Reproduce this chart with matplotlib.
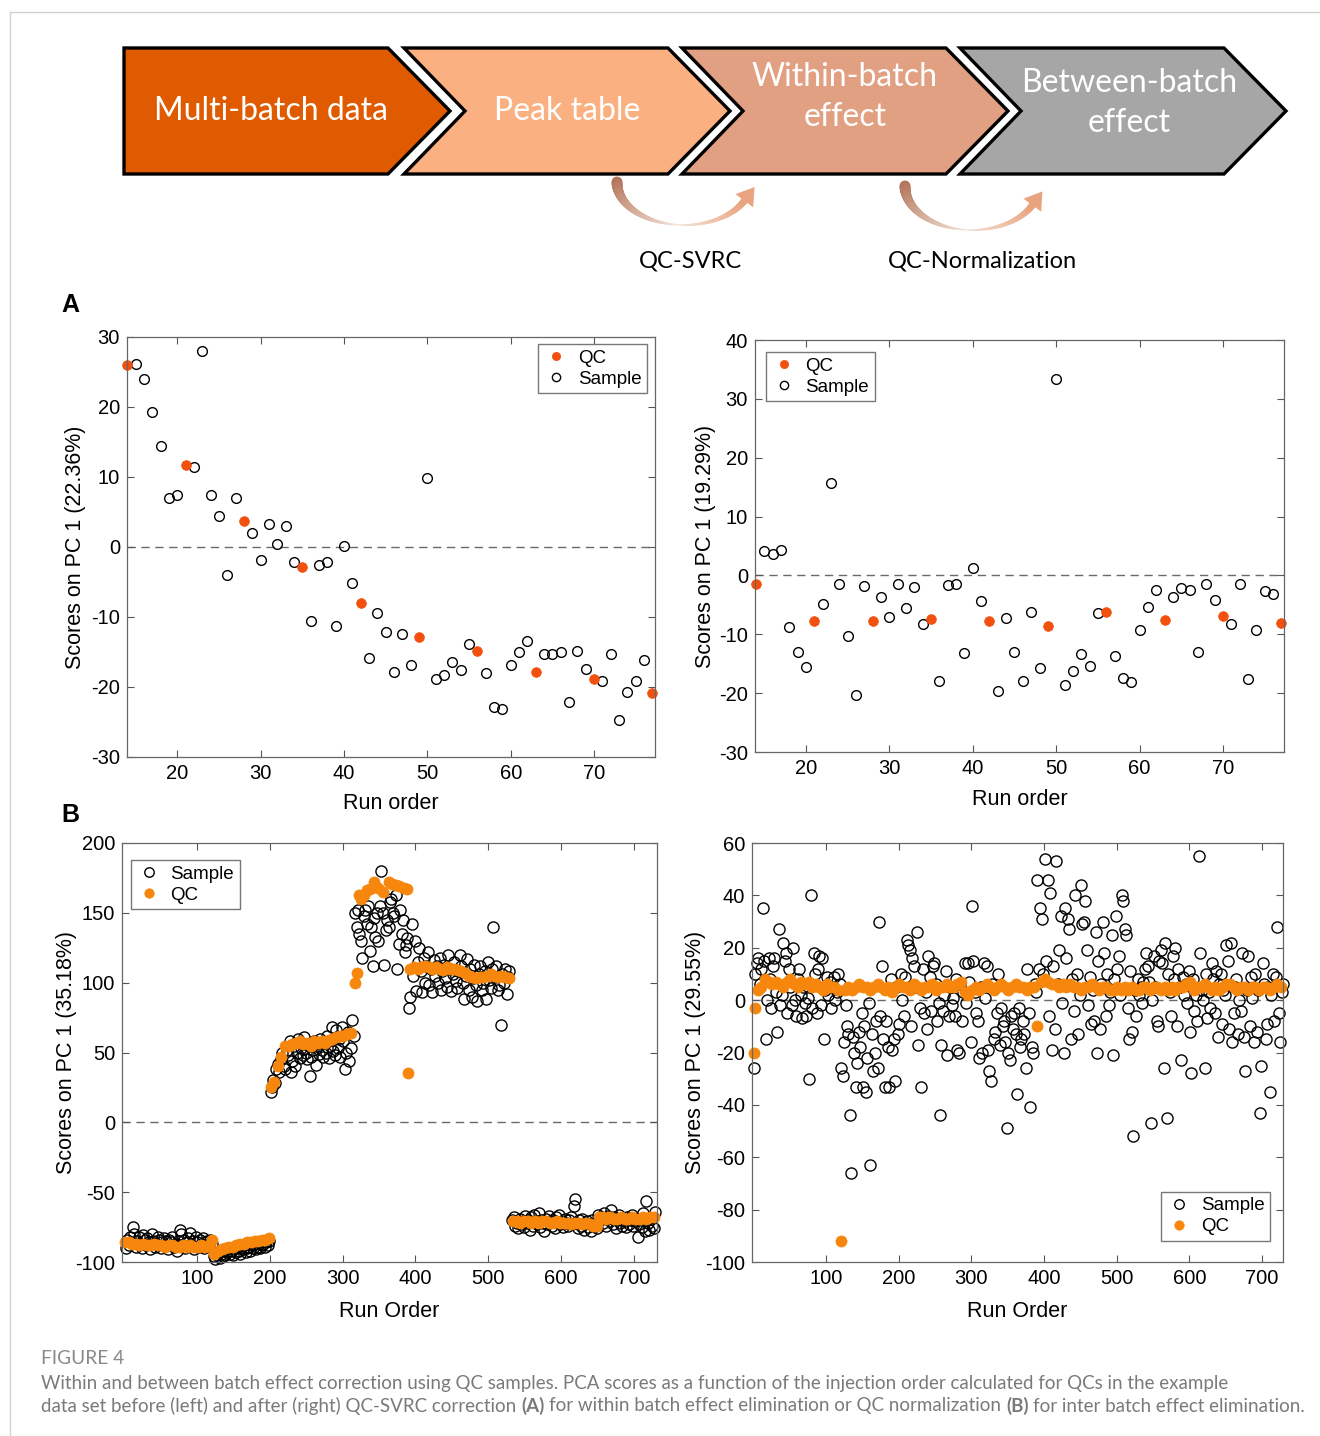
import numpy as np
import matplotlib.pyplot as plt
from matplotlib import font_manager
from matplotlib.patches import Polygon
from matplotlib.collections import LineCollection
from matplotlib.colors import to_rgb

plt.rcParams['font.family'] = ['Liberation Sans', 'DejaVu Sans']
plt.rcParams['axes.unicode_minus'] = False

# ── Data ───────────────────────────────────────────────────────────────────────
# Panel A: one score per run (runs 14-77), QCs every 7th run
a_runs = np.arange(14, 78)
a_qc_runs = [14, 21, 28, 35, 42, 49, 56, 63, 70, 77]
a_before = [26.0, 26.2, 24.0, 19.3, 14.5, 7.0, 7.5, 11.7, 11.5, 28.0,
            7.4, 4.5, -4.0, 7.0, 3.7, 2.0, -1.8, 3.3, 0.5, 3.0,
            -2.2, -2.9, -10.6, -2.5, -2.2, -11.3, 0.2, -5.1, -8.0, -15.9,
            -9.4, -12.2, -17.8, -12.4, -16.9, -12.8, 9.8, -18.9, -18.3, -16.4,
            -17.5, -13.9, -14.8, -18.0, -22.8, -23.1, -16.9, -15.0, -13.4, -17.9,
            -15.3, -15.3, -15.0, -22.1, -14.8, -17.4, -18.9, -19.1, -15.3, -24.7,
            -20.7, -19.1, -16.1, -20.9]
a_after = [-1.4, 4.2, 3.7, 4.4, -8.8, -13.0, -15.6, -7.8, -4.8, 15.7,
           -1.5, -10.3, -20.3, -1.8, -7.7, -3.7, -7.0, -1.5, -5.6, -1.9,
           -8.3, -7.4, -17.9, -1.6, -1.5, -13.2, 1.3, -4.4, -7.7, -19.7,
           -7.2, -13.0, -17.9, -6.2, -15.8, -8.6, 33.3, -18.6, -16.3, -13.4,
           -15.4, -6.4, -6.2, -13.7, -17.4, -18.1, -9.2, -5.4, -2.4, -7.5,
           -3.6, -2.1, -2.4, -13.0, -1.4, -4.1, -6.9, -8.3, -1.4, -17.6,
           -9.3, -2.6, -3.2, -8.0]

# Panel B left (before QC normalization): samples on every 2nd run from each batch start
bl_sample_start = [2, 123, 201, 317, 391, 533, 651]
bl_s1 = [-90, -84, -88, -82, -86, -75, -80, -89, -85, -82,
         -87, -90, -81, -84, -88, -83, -86, -91, -80, -85,
         -89, -87, -82, -84, -90, -86, -83, -88, -85, -91,
         -84, -86, -82, -89, -87, -92, -85, -77, -80, -88,
         -84, -90, -86, -83, -79, -88, -85, -91, -82, -86,
         -89, -84, -87, -83, -90, -86, -85, -88, -84, -87]
bl_s2 = [-96, -98, -95, -93, -97, -94, -96, -92, -95, -93,
         -90, -94, -92, -95, -91, -93, -89, -92, -94, -90,
         -91, -88, -93, -90, -89, -92, -88, -90, -87, -91,
         -89, -86, -90, -88, -87, -89, -86, -88, -85]
bl_s3 = [22, 25, 30, 28, 38, 42, 36, 45, 50, 40,
         38, 52, 48, 58, 36, 44, 55, 40, 50, 60,
         46, 53, 48, 61, 50, 45, 56, 33, 47, 52,
         58, 41, 55, 49, 60, 52, 47, 57, 50, 62,
         46, 55, 68, 51, 48, 66, 53, 60, 47, 68,
         58, 38, 50, 65, 44, 53, 73, 62]
bl_s4 = [150, 140, 152, 135, 130, 118, 148, 152, 142, 155,
         123, 140, 112, 146, 133, 150, 130, 155, 180, 150,
         113, 138, 145, 140, 158, 160, 150, 148, 163, 110,
         128, 152, 135, 145, 122, 127, 132]
bl_s5 = [82, 90, 142, 105, 130, 94, 115, 125, 108, 93,
         118, 100, 112, 122, 98, 110, 93, 116, 105, 112,
         100, 118, 95, 108, 113, 103, 97, 120, 110, 94,
         106, 115, 101, 96, 108, 120, 112, 100, 88, 105,
         117, 95, 110, 90, 103, 113, 98, 87, 106, 112,
         95, 100, 108, 88, 115, 102, 96, 110, 140, 104,
         112, 95, 98, 70, 106, 100, 110, 92, 104, 108]
bl_s6 = [-70, -68, -74, -72, -76, -69, -73, -71, -75, -67,
         -72, -70, -77, -68, -74, -66, -71, -73, -65, -75,
         -70, -72, -78, -69, -73, -67, -71, -74, -70, -76,
         -68, -72, -66, -73, -71, -75, -69, -72, -74, -70,
         -68, -73, -60, -55, -72, -76, -70, -74, -69, -77,
         -72, -71, -75, -73, -78, -70, -74, -72, -76]
bl_s7 = [-66, -70, -68, -72, -65, -74, -69, -67, -71, -63,
         -73, -68, -76, -70, -66, -72, -74, -69, -71, -75,
         -68, -73, -70, -66, -74, -71, -69, -82, -73, -70,
         -75, -65, -78, -56, -72, -77, -69, -74, -76, -64]

# QC injections, every 5th run within each batch (batch 4 listed run by run)
bl_qc1 = [-86, -86, -87, -87, -88, -87, -88, -88, -87, -88, -88, -89, -88,
          -88, -89, -89, -88, -89, -88, -89, -89, -88, -89, -88, -84]
bl_qc2 = [-94, -92, -91, -90, -89, -89, -88, -87, -87, -86, -86, -85, -85, -84, -84, -83]
bl_qc3 = [25, 29, 40, 47, 55, 55, 56, 57, 58, 56, 57, 55, 58, 57, 58, 57,
          59, 60, 61, 62, 62, 63, 64]
bl_qc4_runs = [317, 319, 322, 325, 329, 333, 337, 343, 348, 355, 363, 368, 373, 378, 384, 388, 390]
bl_qc4 = [100, 107, 163, 160, 163, 166, 167, 172, 168, 165, 172, 171, 170, 169, 168, 167, 35]
bl_qc5 = [110, 111, 110, 111, 112, 111, 110, 111, 110, 109, 111, 110, 110, 109,
          108, 107, 105, 104, 103, 104, 104, 105, 106, 105, 104, 105, 104, 103]
bl_qc6 = [-71, -71, -72, -71, -71, -72, -71, -72, -71, -71, -72, -72,
          -71, -72, -72, -72, -73, -72, -72, -73, -72, -73, -74, -74]
bl_qc7 = [-68, -68, -69, -68, -69, -69, -68, -69, -69, -68, -69, -69, -68, -69, -68, -68]

# Panel B right (after QC normalization): samples on runs 1, 3, 5, ... 729
br_samples = [
    -26, 10, 14, 16, 6, 12, 35, 15, -15, 0,
    16, 8, -3, 13, 16, 3, -12, 27, -2, 2,
    22, 15, 18, -5, 12, 5, -2, 20, 0, -6,
    8, 12, 2, -7, 5, -1, -6, 1, -30, 40,
    -3, 18, 10, -5, 12, 17, -2, 16, -15, 4,
    9, 2, 7, -3, 5, 9, 0, 3, 10, 6,
    -26, -29, -16, -2, -10, -13, -44, -66, -14, -20,
    -33, -24, -12, -18, -5, -33, -10, -35, -22, -1,
    -63, -13, -27, -20, -8, -26, 30, -6, 13, -15,
    -33, -8, -18, -33, 8, -19, -15, -31, 5, -13,
    -9, 10, 0, -6, 9, 23, 21, 19, -10, 16,
    13, 5, 26, -17, -3, -33, 12, -5, 3, -11,
    17, 9, -4, 13, 14, 6, -8, -1, -44, -17,
    -4, 2, 11, -21, -6, 5, -2, 1, -6, 8,
    -19, -20, 6, -8, 3, 14, -1, 14, 7, -16,
    36, 15, 3, -5, -8, -22, 5, -20, 14, 1,
    13, -19, -27, -31, 6, -15, -12, -5, 10, -17,
    -3, -10, -8, -16, -49, -20, -23, -6, -11, -5,
    -13, -36, -3, -18, -15, -8, -13, -26, 12, -5,
    -41, -18, -20, 6, 3, 46, 12, 35, 31, 10,
    54, 15, 46, -6, 41, -19, 13, -11, 53, 6,
    19, 32, -1, -20, 35, 16, 31, 27, -15, 8,
    -4, 40, 10, -13, 2, 44, 29, 30, 38, 19,
    -2, 9, -9, 4, -8, 26, -20, 15, -11, 6,
    30, 18, -6, 10, -2, 3, 25, -21, 8, 32,
    12, 17, 2, 40, 38, 27, 25, -3, -15, 11,
    -12, -52, 4, -6, 8, 2, 5, -1, 7, 12,
    18, 13, 7, -47, 0, 17, 5, -8, -10, 15,
    19, 14, -26, 22, -45, 10, 3, -6, 17, 8,
    20, -10, 12, 5, -23, 9, 2, 6, -1, 11,
    -12, -28, 8, -4, 2, -8, 55, 18, 4, 0,
    -26, 10, -7, 3, -3, 14, 8, -5, 11, -14,
    6, 10, -9, 4, 2, 21, 15, -11, 22, -16,
    -5, 5, 8, -13, 0, -4, 18, -14, -27, 4,
    17, -10, 9, 1, -16, 10, -12, 4, -43, -25,
    14, 6, -15, -9, 5, -35, 2, 10, -8, 9,
    28, -5, -16, 3, 6]
br_qc_runs = np.concatenate([[1, 3], np.arange(6, 117, 5), [121],
                             np.arange(126, 387, 5), [390], np.arange(396, 727, 5)])
br_qc = [-20, -3,
         4, 5, 8, 7, 6, 7, 6, 5, 7, 8, 6, 5, 7, 6, 7, 5, 6, 5, 4, 6, 5, 5, 4,
         -92,
         4, 5, 4, 5, 6, 5, 5, 4, 5, 6, 5, 4, 5, 3, 5, 6, 5, 5, 4, 6,
         5, 4, 5, 5, 6, 4, 5, 5, 6, 5, 5, 6, 7, 3, 2, 4, 5, 4, 5, 6,
         5, 4, 5, 6, 5, 4, 5, 6, 5, 5, 4, 5, 5,
         -10,
         7, 8, 7, 6, 6, 5, 6, 5, 6, 5, 5, 4, 5, 5, 6, 5, 4, 5, 5, 4,
         4, 5, 4, 5, 4, 5, 4, 4, 5, 5, 4, 5, 5, 4, 5, 4, 5, 4, 5, 5,
         6, 7, 4, 5, 5, 6, 5, 4, 5, 4, 5, 6, 6, 5, 4, 5, 5, 4, 5, 5,
         4, 5, 5, 4, 5, 6, 5]

steps = ['Multi-batch data', 'Peak table', 'Within-batch\neffect', 'Between-batch\neffect']
step_colors = ['#E05A00', '#FBB081', '#E2A083', '#A6A6A6']
methods = ['QC-SVRC', 'QC-Normalization']

QC_A = '#F2500F'
QC_B = '#F7870C'

# ── Assemble panel B arrays ────────────────────────────────────────────────────
bl_samples = [bl_s1, bl_s2, bl_s3, bl_s4, bl_s5, bl_s6, bl_s7]
bl_s_x = np.concatenate([np.arange(s, s + 2 * len(v), 2) for s, v in zip(bl_sample_start, bl_samples)])
bl_s_y = np.concatenate(bl_samples)
bl_q_x = np.concatenate([np.arange(1, 122, 5), np.arange(124, 200, 5), np.arange(201, 312, 5),
                         bl_qc4_runs, np.arange(393, 529, 5), np.arange(534, 650, 5),
                         np.arange(652, 728, 5)])
bl_q_y = np.concatenate([bl_qc1, bl_qc2, bl_qc3, bl_qc4, bl_qc5, bl_qc6, bl_qc7])
br_s_x = np.arange(1, 2 * len(br_samples), 2)

# ── Figure ─────────────────────────────────────────────────────────────────────
W, H = 1320, 1436
fig = plt.figure(figsize=(W / 100, H / 100), dpi=100)

ov = fig.add_axes([0, 0, 1, 1])
ov.set_xlim(0, W)
ov.set_ylim(H, 0)
ov.axis('off')

# outer card border
ov.plot([10, W], [12, 12], color='#d2d2d2', lw=1)
ov.plot([10, 10], [12, H], color='#d2d2d2', lw=1)

# chevrons
top, bot, mid = 48, 174, 111
lefts = [124, 404, 682, 960]
text_x = [271, 567, 845, 1129]
text_y = [111, 111, 97, 103]
for i, (x0, lab, col) in enumerate(zip(lefts, steps, step_colors)):
    x1 = x0 + 264
    tip = x1 + 62
    pts = [(x0, top), (x1, top), (tip, mid), (x1, bot), (x0, bot)]
    if i > 0:
        pts.append((x0 + 61, mid))
    ov.add_patch(Polygon(pts, closed=True, facecolor=col, edgecolor='black',
                         lw=2.4, joinstyle='miter'))
    ov.text(text_x[i], text_y[i], lab, color='white', fontsize=23, family='Lato', ha='center',
            va='center', linespacing=1.42, multialignment='center')


def curved_arrow(cx, cy, rx, ry, t_end=0.45):
    t = np.linspace(np.pi, t_end, 90)
    pts = np.column_stack([cx + rx * np.cos(t), cy + ry * np.sin(t)])
    segs = np.stack([pts[:-1], pts[1:]], axis=1)
    s = np.linspace(0, 1, len(segs))
    w = np.where(s < 0.55, 11 - 10 * s / 0.55, 1 + 6 * (s - 0.55) / 0.45)
    c0, c1, c2 = (np.array(to_rgb(c)) for c in ['#B27358', '#F4E2D6', '#E9A47F'])
    cols = [c0 + (c1 - c0) * (v / 0.55) if v < 0.55 else c1 + (c2 - c1) * ((v - 0.55) / 0.45) for v in s]
    ov.add_collection(LineCollection(segs, linewidths=w * 0.72, colors=cols, capstyle='round'))
    d = np.array([rx * np.sin(t_end), -ry * np.cos(t_end)])
    d /= np.linalg.norm(d)
    n = np.array([-d[1], d[0]])
    base = pts[-1]
    ov.add_patch(Polygon([base + 17 * d, base + 11 * n, base - 11 * n], closed=True,
                         facecolor=c2, lw=0))


curved_arrow(684, 182, 67, 43)
curved_arrow(972, 186, 67, 44)
ov.text(691, 261, methods[0], fontsize=17, family='Lato', ha='center', va='center')
ov.text(982, 261, methods[1], fontsize=17, family='Lato', ha='center', va='center')

ov.text(70, 305, 'A', fontsize=18, weight='bold', ha='center', va='center')
ov.text(70, 815, 'B', fontsize=18, weight='bold', ha='center', va='center')


def add_ax(l, r, t, b):
    return fig.add_axes([l / W, 1 - b / H, (r - l) / W, (b - t) / H])


def style(ax, box, xlim, ylim, xticks, yticks, xlabel, ylabel, ylab_right, xlab_top):
    l, r, t, b = box
    ax.set_xlim(*xlim)
    ax.set_ylim(*ylim)
    ax.set_xticks(xticks)
    ax.set_yticks(yticks)
    ax.tick_params(direction='in', top=True, right=True, length=5, width=0.8,
                   color='#555555', labelsize=14.5, pad=5)
    for sp in ax.spines.values():
        sp.set_color('#666666')
        sp.set_linewidth(0.9)
    ax.axhline(0, color='#6a6a6a', ls=(0, (6, 4)), lw=1, zorder=0)
    ax.set_xlabel(xlabel, fontsize=15.5)
    ax.set_ylabel(ylabel, fontsize=15.5)
    ax.yaxis.set_label_coords((ylab_right - l) / (r - l), 0.5)
    ax.xaxis.set_label_coords(0.5, (b - xlab_top) / (b - t))


def legend(ax, handles, labels, loc, anchor):
    leg = ax.legend(handles, labels, loc=loc, bbox_to_anchor=anchor, borderaxespad=0,
                    fancybox=False, edgecolor='#777777', framealpha=1, fontsize=13.5,
                    handletextpad=0.5, borderpad=0.3, labelspacing=0.2, handlelength=1.3,
                    markerscale=0.85)
    leg.get_frame().set_linewidth(1.0)


def draw_points(ax, sx, sy, qx, qy, qc_col, ms):
    hs, = ax.plot(sx, sy, 'o', ms=ms, mfc='none', mec='black', mew=1.0, clip_on=False)
    hq, = ax.plot(qx, qy, 'o', ms=ms, mfc=qc_col, mec=qc_col, mew=0.5, clip_on=False)
    return hs, hq


a_runs_arr = np.asarray(a_runs)
is_qc = np.isin(a_runs_arr, a_qc_runs)

# A left
box = (127, 655, 337, 757)
ax = add_ax(*box)
hs, hq = draw_points(ax, a_runs_arr[~is_qc], np.asarray(a_before)[~is_qc],
                     a_runs_arr[is_qc], np.asarray(a_before)[is_qc], QC_A, 7)
style(ax, box, (13.95, 77.3), (-30, 30), range(20, 71, 10), range(-30, 31, 10),
      'Run order', 'Scores on PC 1 (22.36%)', 86, 793)
legend(ax, [hq, hs], ['QC', 'Sample'], 'upper right', (1 - 8 / 528, 1 - 7 / 420))

# A right
box = (755, 1284, 340, 752)
ax = add_ax(*box)
hs, hq = draw_points(ax, a_runs_arr[~is_qc], np.asarray(a_after)[~is_qc],
                     a_runs_arr[is_qc], np.asarray(a_after)[is_qc], QC_A, 7)
style(ax, box, (13.9, 77.3), (-30, 40), range(20, 71, 10), range(-30, 41, 10),
      'Run order', 'Scores on PC 1 (19.29%)', 716, 789)
legend(ax, [hq, hs], ['QC', 'Sample'], 'upper left', (11 / 529, 1 - 12 / 412))

# B left
box = (122, 657, 843, 1262)
ax = add_ax(*box)
hs, hq = draw_points(ax, bl_s_x, bl_s_y, bl_q_x, bl_q_y, QC_B, 8)
style(ax, box, (-3, 731.6), (-100, 200), range(100, 701, 100), range(-100, 201, 50),
      'Run Order', 'Scores on PC 1 (35.18%)', 77, 1301)
legend(ax, [hs, hq], ['Sample', 'QC'], 'upper left', (9 / 535, 1 - 17 / 419))

# B right
box = (752, 1283, 843, 1262)
ax = add_ax(*box)
hs, hq = draw_points(ax, br_s_x, br_samples, br_qc_runs, br_qc, QC_B, 8)
style(ax, box, (-1.8, 729), (-100, 60), range(100, 701, 100), range(-100, 61, 20),
      'Run Order', 'Scores on PC 1 (29.55%)', 706, 1301)
legend(ax, [hs, hq], ['Sample', 'QC'], 'lower right', (1 - 13 / 531, 21 / 419))

# ── Caption ────────────────────────────────────────────────────────────────────
names = {f.name for f in font_manager.fontManager.ttflist}
cap_font = 'Liberation Sans Narrow' if 'Liberation Sans Narrow' in names else 'Lato'
renderer = fig.canvas.get_renderer()


def text_width(s, size, bold=False):
    t = fig.text(0, 0, s, fontsize=size, family=cap_font, weight='bold' if bold else 'normal')
    w = t.get_window_extent(renderer=renderer).width
    t.remove()
    return w


def rich_line(x, y, parts, size, color):
    space = text_width('a a', size) - text_width('aa', size)
    for s, bold in parts:
        t = fig.text(x / W, 1 - y / H, s, fontsize=size, family=cap_font, color=color,
                     weight='bold' if bold else 'normal', va='center')
        x += t.get_window_extent(renderer=renderer).width + space


line1 = [('Within and between batch effect correction using QC samples. PCA scores as a function '
          'of the injection order calculated for QCs in the example', False)]
line2 = [('data set before (left) and after (right) QC-SVRC correction', False), ('(A)', True),
         ('for within batch effect elimination or QC normalization', False), ('(B)', True),
         ('for inter batch effect elimination.', False)]

base = 13
sp = text_width('a a', base) - text_width('aa', base)
w2 = sum(text_width(s, base, b) for s, b in line2) + sp * (len(line2) - 1)
size = base * 1259 / w2

fig.text(41 / W, 1 - 1358 / H, 'FIGURE 4', fontsize=size * 1.02, family=cap_font,
         color='#8a8a8a', va='center')
rich_line(41, 1383, line1, size, '#7a7a7a')
rich_line(41, 1406, line2, size, '#7a7a7a')

fig.savefig('out.png', dpi=100)
